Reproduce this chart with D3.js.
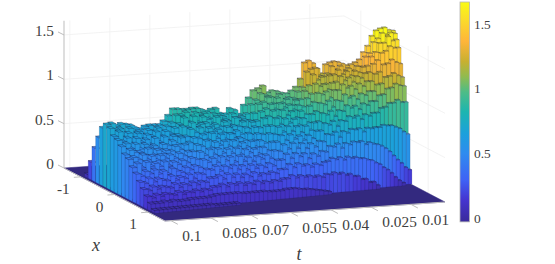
<!DOCTYPE html>
<html><head><meta charset="utf-8">
<script src="https://cdn.jsdelivr.net/npm/d3@7/dist/d3.min.js"></script>
<style>html,body{margin:0;padding:0;background:#fff}svg{display:block}text{font-family:"Liberation Serif","Times New Roman",serif;fill:#404040}</style>
</head><body><svg id="c" width="555" height="264"></svg>
<script>
// ---------- axis labels ----------
const tTicks=[0.1,0.085,0.07,0.055,0.04,0.025,0.01];
const tTickLabels=["0.1","0.085","0.07","0.055","0.04","0.025","0.01"];
const xTicks=[-1,0,1];
const xTickLabels=["-1","0","1"];
const zTicks=[0,0.5,1,1.5];
const zTickLabels=["0","0.5","1","1.5"];
const colorbarTicks=[0,0.5,1,1.5];
// ---------- heights, one row per x-step in front of the ridge, one value per t-step (t falling) ----------
const row0=[.71,.72,.69,.71,.70,.69,.66,.64,.67,.68,
.68,.68,.72,.78,.85,.85,.84,.84,.85,.85,
.83,.81,.83,.84,.78,.77,.83,.81,.76,.86,
.94,1.02,1.04,1.07,.99,1.01,1.00,.98,.97,1.00,
1.04,1.13,1.31,1.33,1.30,1.24,1.18,1.28,1.30,1.31,
1.30,1.28,1.26,1.27,1.29,1.32,1.40,1.47,1.58,1.64,
1.66,1.67,1.64,1.63];
const row1=[.69,.66,.68,.63,.68,.62,.64,.60,.65,.63,
.67,.62,.68,.72,.80,.80,.83,.78,.82,.80,
.81,.75,.80,.78,.76,.71,.79,.74,.75,.78,
.88,.93,1.00,.98,.96,.93,.98,.92,.94,.93,
1.00,1.05,1.22,1.25,1.26,1.17,1.16,1.19,1.27,1.23,
1.27,1.22,1.24,1.21,1.26,1.25,1.36,1.40,1.52,1.56,
1.62,1.60,1.62,1.61];
const row2=[.62,.67,.60,.65,.59,.64,.57,.62,.60,.65,
.60,.65,.62,.68,.72,.79,.74,.80,.73,.79,
.76,.71,.78,.73,.74,.68,.76,.71,.73,.72,
.80,.90,.92,.97,.90,.96,.90,.94,.87,.92,
.93,1.02,1.08,1.20,1.14,1.17,1.09,1.18,1.19,1.24,
1.19,1.22,1.17,1.22,1.20,1.26,1.27,1.37,1.42,1.52,
1.52,1.59,1.54,1.55];
const row3=[.60,.58,.62,.55,.61,.56,.59,.53,.60,.55,
.61,.56,.61,.62,.71,.70,.75,.71,.73,.74,
.70,.72,.69,.74,.67,.69,.68,.73,.65,.72,
.73,.83,.86,.91,.85,.91,.86,.89,.83,.88,
.86,.95,1.00,1.11,1.08,1.10,1.04,1.11,1.12,1.18,
1.13,1.16,1.11,1.17,1.15,1.20,1.21,1.30,1.34,1.42,
1.44,1.49,1.47,1.47];
const row4=[.55,.58,.52,.57,.51,.56,.52,.54,.50,.55,
.53,.58,.54,.61,.62,.70,.66,.71,.65,.70,
.66,.68,.64,.70,.62,.65,.61,.68,.60,.68,
.67,.77,.79,.85,.78,.85,.79,.83,.76,.83,
.79,.88,.92,1.02,1.00,1.03,.96,1.04,1.04,1.10,
1.06,1.08,1.04,1.10,1.07,1.12,1.12,1.20,1.22,1.30,
1.31,1.35,1.32,1.30];
const row5=[.48,.53,.50,.50,.47,.53,.46,.51,.47,.50,
.49,.54,.50,.55,.57,.62,.61,.65,.59,.66,
.60,.64,.58,.64,.58,.59,.56,.63,.55,.62,
.61,.70,.70,.78,.71,.77,.72,.76,.69,.76,
.71,.80,.83,.92,.90,.94,.87,.94,.93,1.00,
.96,.98,.94,1.00,.98,1.02,1.02,1.09,1.10,1.17,
1.18,1.21,1.18,1.16];
const row6=[.45,.47,.44,.49,.43,.47,.42,.47,.43,.47,
.43,.48,.45,.49,.49,.56,.54,.60,.52,.58,
.54,.58,.52,.58,.51,.55,.50,.56,.49,.56,
.53,.63,.62,.70,.64,.70,.64,.69,.62,.69,
.64,.72,.73,.82,.80,.84,.78,.84,.83,.89,
.86,.88,.84,.90,.88,.92,.92,.98,.99,1.05,
1.06,1.10,1.08,1.07];
const row7=[.38,.42,.37,.43,.38,.41,.37,.42,.37,.41,
.38,.42,.39,.44,.42,.50,.46,.52,.46,.52,
.47,.51,.46,.51,.44,.49,.45,.49,.43,.50,
.46,.55,.55,.62,.56,.62,.57,.60,.55,.60,
.56,.64,.64,.72,.70,.74,.68,.74,.73,.78,
.76,.78,.74,.79,.77,.80,.80,.85,.86,.90,
.90,.93,.90,.90];
const row8=[.33,.30,.35,.32,.36,.31,.34,.30,.36,.33,
.31,.36,.33,.37,.35,.43,.40,.44,.39,.45,
.40,.44,.38,.44,.38,.42,.37,.42,.39,.43,
.39,.47,.46,.53,.48,.54,.48,.53,.47,.52,
.48,.54,.53,.61,.60,.63,.57,.63,.61,.65,
.64,.65,.61,.65,.64,.65,.65,.67,.66,.66,
.64,.62,.58,.55];
const row9=[.26,.24,.29,.25,.28,.26,.25,.30,.25,.28,
.26,.30,.25,.30,.29,.34,.33,.37,.31,.36,
.33,.36,.31,.35,.30,.35,.31,.34,.31,.35,
.32,.38,.38,.44,.39,.44,.40,.43,.37,.42,
.39,.44,.43,.49,.48,.51,.46,.51,.49,.52,
.51,.52,.48,.50,.48,.47,.45,.42,.38,.33,
.28,.24,.19,.16];
const row10=[.20,.18,.22,.19,.21,.20,.19,.23,.19,.22,
.20,.23,.20,.23,.22,.26,.26,.28,.24,.29,
.25,.28,.24,.27,.24,.28,.24,.26,.25,.27,
.25,.29,.29,.34,.30,.34,.31,.32,.29,.32,
.30,.33,.34,.37,.35,.37,.34,.37,.35,.36,
.34,.34,.32,.31,.28,.26,.22,.19,.15,.10,
.06,.03,0,0];
const row11=[.14,.12,.15,.13,.15,.14,.13,.16,.13,.15,
.14,.16,.14,.16,.15,.18,.18,.20,.17,.20,
.18,.20,.17,.19,.17,.20,.17,.19,.17,.19,
.18,.20,.20,.23,.20,.22,.20,.21,.19,.20,
.18,.21,.20,.22,.20,.21,.18,.19,.16,.16,
.12,.12,.08,.08,.04,0,0,0,0,0,
0,0,0,0];
const row12=[.08,.08,.08,.09,.08,.09,.08,.08,.08,.09,
.09,.09,.09,.09,.10,.11,.11,.11,.11,.11,
.11,.10,.10,.10,.10,.10,.10,.09,.09,.09,
.09,.10,.10,.10,.09,.08,.08,.07,.06,.05,
.04,.03,0,0,0,0,0,0,0,0,
0,0,0,0,0,0,0,0,0,0,
0,0,0,0];
const row13=[.03,.03,.03,.03,.03,.03,.03,.03,.03,.03,
.03,.03,.03,.03,.02,.02,.02,.02,.02,.02,
0,0,0,0,0,0,0,0,0,0,
0,0,0,0,0,0,0,0,0,0,
0,0,0,0,0,0,0,0,0,0,
0,0,0,0,0,0,0,0,0,0,
0,0,0,0];
// rising flank of the nearest slice, behind its ridge (far to near)
const leadFlank=[.04,.20,.38,.52,.65];
const rows=[row0,row1,row2,row3,row4,row5,row6,row7,row8,row9,row10,row11,row12,row13];
const nCols=row0.length,nRows=rows.length;

// ---------- scales ----------
const tDomain=[-0.0028,0.1022], xDomain=[-1.5,1.5], zTop=1.66;
const tX=d3.scaleLinear().domain(tDomain).range([445,165]);
const tY=d3.scaleLinear().domain(tDomain).range([202,221]);
const xX=d3.scaleLinear().domain(xDomain).range([-101,0]);
const xY=d3.scaleLinear().domain(xDomain).range([-53,0]);
const zY=d3.scaleLinear().domain([0,1]).range([0,-88.7]);
const P=(t,x,z=0)=>[tX(t)+xX(x),tY(t)+xY(x)+zY(z)];
const colEdge=d3.scaleLinear().domain([0,41,nCols]).range([0.1007,0.0314,-0.0032]);
const ridgeX=d3.scaleLinear().domain([0,41,nCols-1]).range([-0.46,-0.187,-0.05]);
const spanX=d3.scaleLinear().domain([0,41,nCols-1]).range([1.54,0.99,0.75]);
const frac=d3.scaleLinear().domain([-0.03,1.67]).range([0,1]);
const parulaStops=[[0,"#3a2a9a"],[.10,"#4535d0"],[.19,"#3f62f5"],[.31,"#2f8bef"],[.40,"#1ca0dc"],[.50,"#1cb5b0"],[.59,"#4dbc87"],[.66,"#90bb50"],[.73,"#c8b030"],[.82,"#feb53a"],[.92,"#fbdc2a"],[1,"#f9fb15"]];
const parula=d3.scaleLinear().domain(parulaStops.map(d=>d[0])).range(parulaStops.map(d=>d[1])).clamp(true);
const color=z=>parula(frac(z));
const poly=d3.line();
const svg=d3.select("#c");
const grid="#f0f0f0", axisC="#bdbdbd";

// ---------- walls ----------
const wall=svg.append("g").attr("fill","none").attr("stroke",grid).attr("stroke-width",.8);
const seg=(g,a,b)=>g.append("path").attr("d",poly([a,b]));
const tL=tDomain[0],tH=tDomain[1],xL=xDomain[0],xH=xDomain[1];
tTicks.forEach(t=>seg(wall,P(t,xL,0),P(t,xL,zTop)));
xTicks.forEach(x=>seg(wall,P(tL,x,0),P(tL,x,zTop)));
zTicks.filter(z=>z>0).forEach(z=>{seg(wall,P(tH,xL,z),P(tL,xL,z));seg(wall,P(tL,xL,z),P(tL,xH,z));});

// ---------- floor ----------
svg.append("path").attr("d",poly([P(tH,xL),P(tH,xH),P(tL,xH),P(tL,xL)])+"Z").attr("fill","#33297f").attr("stroke","#33297f").attr("stroke-width",.5);

// ---------- surface ----------
const surf=svg.append("g");
const faces=[];
for(let i=nCols-1;i>=0;i--){
  const tN=colEdge(i),tF=colEdge(i+1),x0=ridgeX(i),dx=spanX(i)/nRows;
  const cells=[];
  if(i===0) leadFlank.forEach((h,j)=>cells.push({a:x0-dx*(leadFlank.length-j),b:x0-dx*(leadFlank.length-j-1),h}));
  rows.forEach((r,k)=>cells.push({a:x0+dx*k,b:x0+dx*(k+1),h:r[i]||0}));
  cells.forEach((c,n)=>{
    if(c.h<=0) return;
    const next=n+1<cells.length?cells[n+1].h:0;
    faces.push({pts:[P(tN,c.a,0),P(tN,c.b,0),P(tN,c.b,c.h),P(tN,c.a,c.h)],z:c.h,kind:"side"});
    faces.push({pts:[P(tF,c.a,c.h),P(tF,c.b,c.h),P(tN,c.b,c.h),P(tN,c.a,c.h)],z:c.h,kind:"top"});
    if(next<c.h) faces.push({pts:[P(tF,c.b,c.h),P(tN,c.b,c.h),P(tN,c.b,next),P(tF,c.b,next)],z:c.h,kind:"front"});
  });
}
surf.selectAll("path").data(faces).join("path")
  .attr("d",d=>poly(d.pts)+"Z")
  .attr("fill",d=>color(d.z))
  .attr("stroke",d=>d.kind==="top"?"rgba(25,25,55,.58)":"rgba(25,25,70,.32)")
  .attr("stroke-width",d=>d.kind==="top"?.6:.45);

// ---------- axes ----------
const ax=svg.append("g").attr("fill","none").attr("stroke",axisC).attr("stroke-width",1);
seg(ax,P(tH,xL,0),P(tH,xL,zTop));
seg(ax,P(tH,xL,0),P(tH,xH,0));
seg(ax,P(tH,xH,0),P(tL,xH,0));
zTicks.forEach(z=>{const p=P(tH,xL,z);seg(ax,p,[p[0]-6,p[1]-3]);});
xTicks.forEach(x=>{const p=P(tH,x,0);seg(ax,p,[p[0]-7,p[1]+.5]);});
tTicks.forEach(t=>{const p=P(t,xH,0);seg(ax,p,[p[0]+7,p[1]+3.7]);});

const lab=svg.append("g").attr("font-size",15.3);
const put=(txt,x,y,anchor)=>lab.append("text").attr("x",x).attr("y",y).attr("text-anchor",anchor).attr("dominant-baseline","central").text(txt);
zTicks.forEach((z,i)=>{const p=P(tH,xL,z);put(zTickLabels[i],54,p[1]-4.5,"end");});
xTicks.forEach((x,i)=>{const p=P(tH,x,0);put(xTickLabels[i],p[0]-11.2,p[1]+11.5,"end");});
tTicks.forEach((t,i)=>{const p=P(t,xH,0);put(tTickLabels[i],p[0]+11.5,p[1]+14.8,"start");});
put("x",96,245,"middle").attr("font-style","italic").attr("font-size",18);
put("t",299,254,"middle").attr("font-style","italic").attr("font-size",18);

// ---------- colorbar ----------
const cbY=d3.scaleLinear().domain([0,1.5]).range([218,24]);
const defs=svg.append("defs").append("linearGradient").attr("id","cb").attr("x1",0).attr("x2",0).attr("y1",1).attr("y2",0);
defs.selectAll("stop").data(parulaStops).join("stop").attr("offset",d=>d[0]).attr("stop-color",d=>d[1]);
svg.append("rect").attr("x",460).attr("y",cbY(1.67)).attr("width",9.5).attr("height",cbY(-0.03)-cbY(1.67)).attr("fill","url(#cb)").attr("stroke","#b4b4b4").attr("stroke-width",.8);
const cb=svg.append("g").attr("font-size",13.4);
colorbarTicks.forEach(v=>cb.append("text").attr("x",474).attr("y",cbY(v)).attr("dominant-baseline","central").text(v));
</script></body></html>
